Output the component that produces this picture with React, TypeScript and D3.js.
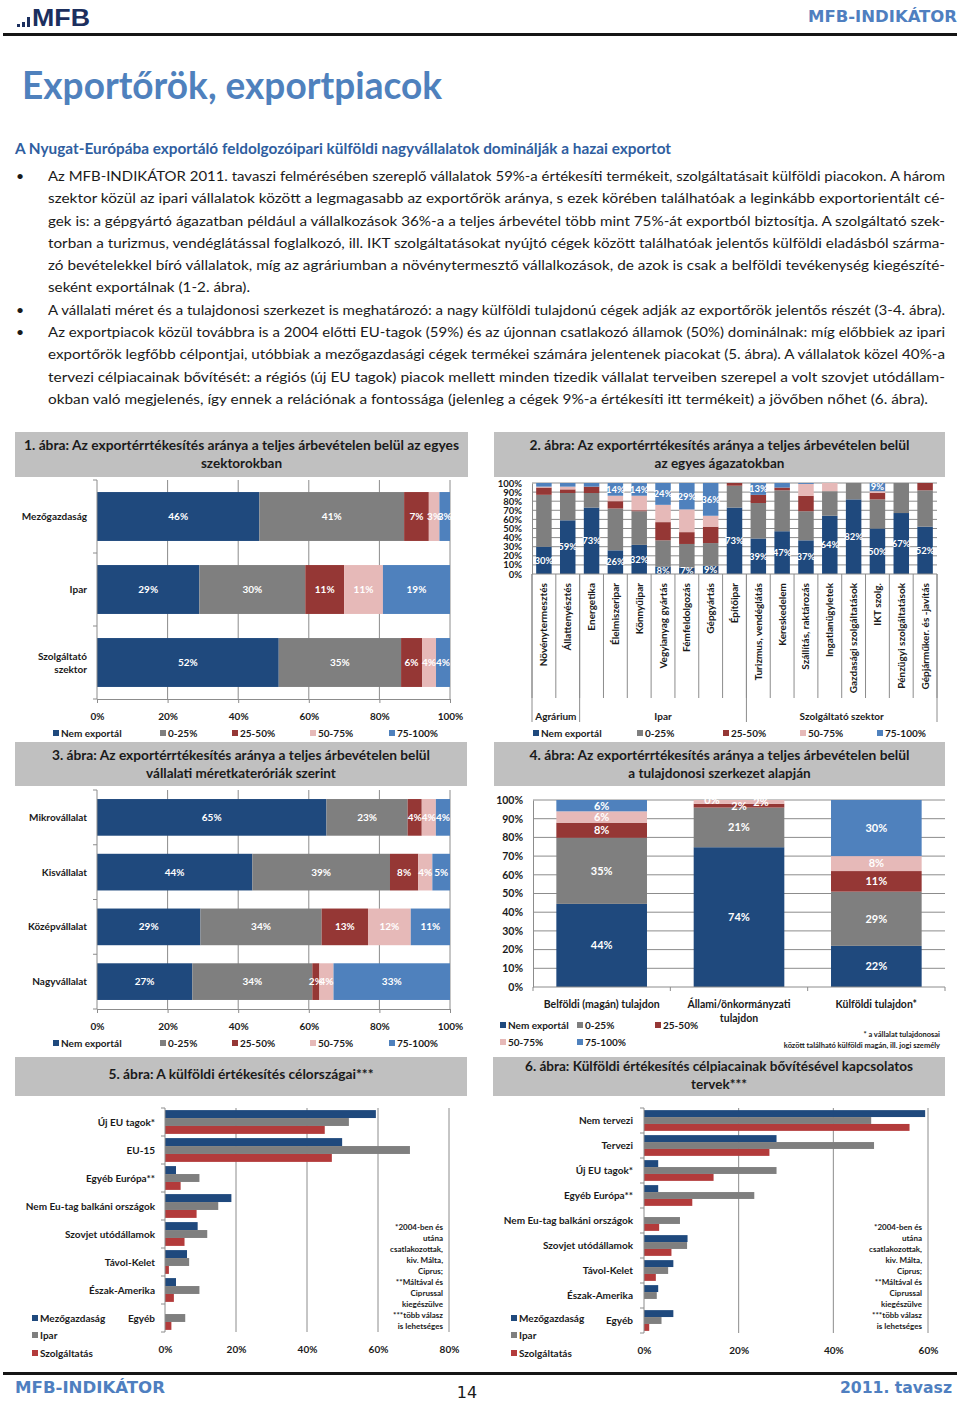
import React, { useRef, useEffect } from 'react';
import * as d3 from 'd3';

// ---- data read from the page ----
const bands = ['Nem exportál', '0-25%', '25-50%', '50-75%', '75-100%'];
const bandColors = ['#1f497d', '#7f7f7f', '#953735', '#e6b9b8', '#4f81bd'];

const sectors = ['Mezőgazdaság', 'Ipar', 'Szolgáltató szektor'];
const sectorLines = [['Mezőgazdaság'], ['Ipar'], ['Szolgáltató', 'szektor']];
const sectorValues = [
  [46, 41, 7, 3, 3],
  [29, 30, 11, 11, 19],
  [52, 35, 6, 4, 4],
];

const branches = [
  'Növénytermesztés', 'Állattenyésztés', 'Energetika', 'Élelmiszeripar', 'Könnyűipar',
  'Vegyianyag gyártás', 'Fémfeldolgozás', 'Gépgyártás', 'Építőipar', 'Turizmus, vendéglátás',
  'Kereskedelem', 'Szállítás, raktározás', 'Ingatlanügyletek', 'Gazdasági szolgáltatások',
  'IKT szolg.', 'Pénzügyi szolgáltatások', 'Gépjárműker. és -javítás',
];
const branchValues = [
  [30, 57, 8, 1, 4],
  [59, 30, 4, 3, 4],
  [73, 16, 7, 0, 4],
  [26, 46, 8, 6, 14],
  [32, 37, 1, 16, 14],
  [8, 29, 20, 19, 24],
  [7, 26, 13, 25, 29],
  [9, 25, 18, 12, 36],
  [73, 24, 3, 0, 0],
  [39, 39, 9, 0, 13],
  [47, 45, 3, 0, 5],
  [37, 32, 17, 13, 1],
  [64, 27, 0, 9, 0],
  [82, 18, 0, 0, 0],
  [50, 32, 7, 2, 9],
  [67, 33, 0, 0, 0],
  [52, 40, 8, 0, 0],
];
const branchGroups = ['Agrárium', 'Ipar', 'Szolgáltató szektor'];
const branchGroupSizes = [2, 7, 8];

const sizes = ['Mikrovállalat', 'Kisvállalat', 'Középvállalat', 'Nagyvállalat'];
const sizeValues = [
  [65, 23, 4, 4, 4],
  [44, 39, 8, 4, 5],
  [29, 34, 13, 12, 11],
  [27, 34, 2, 4, 33],
];

const owners = ['Belföldi (magán) tulajdon', 'Állami/önkormányzati tulajdon', 'Külföldi tulajdon*'];
const ownerLines = [['Belföldi (magán) tulajdon'], ['Állami/önkormányzati', 'tulajdon'], ['Külföldi tulajdon*']];
const ownerValues = [
  [44, 35, 8, 6, 6],
  [74, 21, 2, 2, 0],
  [22, 29, 11, 8, 30],
];

const destSeries = ['Mezőgazdaság', 'Ipar', 'Szolgáltatás'];
const destColors = ['#1f497d', '#7f7f7f', '#b33b3b'];

const targets = ['Új EU tagok*', 'EU-15', 'Egyéb Európa**', 'Nem Eu-tag balkáni országok',
  'Szovjet utódállamok', 'Távol-Kelet', 'Észak-Amerika', 'Egyéb'];
const targetValues = [
  [59.4, 51.8, 45],
  [49.9, 69, 47],
  [3.1, 9.7, 4.4],
  [18.7, 15, 8.9],
  [9.2, 11.9, 5.5],
  [6.2, 6.8, 1.1],
  [3.1, 9.7, 2.5],
  [0, 5.7, 1.8],
];
const targetTicks = [0, 20, 40, 60, 80];

const plans = ['Nem tervezi', 'Tervezi', 'Új EU tagok*', 'Egyéb Európa**', 'Nem Eu-tag balkáni országok',
  'Szovjet utódállamok', 'Távol-Kelet', 'Észak-Amerika', 'Egyéb'];
const planValues = [
  [59.4, 48, 56.1],
  [28, 48.6, 26.5],
  [3, 28, 14.7],
  [3, 23.3, 10.2],
  [0, 7.6, 3.2],
  [9.2, 9.1, 5.8],
  [6.2, 5.1, 2.5],
  [3, 2.7, 0],
  [6.2, 3.7, 1.1],
];
const planTicks = [0, 20, 40, 60];

const noteLines = ['*2004-ben és', 'utána', 'csatlakozottak,', 'kiv. Málta,', 'Ciprus;',
  '**Máltával és', 'Ciprussal', 'kiegészülve', '***több válasz', 'is lehetséges'];

const paragraph = [
  'Az MFB-INDIKÁTOR 2011. tavaszi felmérésében szereplő vállalatok 59%-a értékesíti termékeit, szolgáltatásait külföldi piacokon. A három',
  'szektor közül az ipari vállalatok között a legmagasabb az exportőrök aránya, s ezek körében találhatóak a leginkább exportorientált cé-',
  'gek is: a gépgyártó ágazatban például a vállalkozások 36%-a a teljes árbevétel több mint 75%-át exportból biztosítja. A szolgáltató szek-',
  'torban a turizmus, vendéglátással foglalkozó, ill. IKT szolgáltatásokat nyújtó cégek között találhatóak jelentős külföldi eladásból szárma-',
  'zó bevételekkel bíró vállalatok, míg az agráriumban a növénytermesztő vállalkozások, de azok is csak a belföldi tevékenység kiegészíté-',
  'seként exportálnak (1-2. ábra).',
  'A vállalati méret és a tulajdonosi szerkezet is meghatározó: a nagy külföldi tulajdonú cégek adják az exportőrök jelentős részét (3-4. ábra).',
  'Az exportpiacok közül továbbra is a 2004 előtti EU-tagok (59%) és az újonnan csatlakozó államok (50%) dominálnak: míg előbbiek az ipari',
  'exportőrök legfőbb célpontjai, utóbbiak a mezőgazdasági cégek termékei számára jelentenek piacokat (5. ábra). A vállalatok közel 40%-a',
  'tervezi célpiacainak bővítését: a régiós (új EU tagok) piacok mellett minden tizedik vállalat terveiben szerepel a volt szovjet utódállam-',
  'okban való megjelenés, így ennek a relációnak a fontossága (jelenleg a cégek 9%-a értékesíti itt termékeit) a jövőben nőhet (6. ábra).',
];
const paragraphWidths = [897, 897, 897, 897, 897, 202, 897, 897, 897, 897, 880];
const bulletLines = [0, 6, 7];

const FONT = 'Lato, "Open Sans", "DejaVu Sans", sans-serif';
const INK = '#1a1a1a';
const GRID = '#8c8c8c';
const BOX = '#c0c0c0';
const BLUE = '#4f7fc0';

function addText(g: any, x: number, y: number, s: string, o: any = {}) {
  const t = g.append('text')
    .attr('x', x).attr('y', y).attr('dy', '0.35em')
    .attr('font-family', o.family || FONT)
    .attr('font-size', o.size || 10)
    .attr('font-weight', o.weight || 'bold')
    .attr('fill', o.fill || INK)
    .attr('text-anchor', o.anchor || 'start')
    .text(s);
  if (o.len) t.attr('textLength', o.len).attr('lengthAdjust', 'spacingAndGlyphs');
  return t;
}

function titleBox(g: any, x: number, y: number, w: number, h: number, lines: string[], ys: number[], lens: (number | null)[]) {
  g.append('rect').attr('x', x).attr('y', y).attr('width', w).attr('height', h).attr('fill', BOX);
  lines.forEach((ln, i) => addText(g, x + w / 2, ys[i], ln, { size: 13.5, anchor: 'middle', len: lens[i] || undefined }));
}

function legend(g: any, labels: string[], colors: string[], xs: number[], ys: number[]) {
  labels.forEach((l, i) => {
    g.append('rect').attr('x', xs[i]).attr('y', ys[i] - 3).attr('width', 6).attr('height', 6).attr('fill', colors[i]);
    addText(g, xs[i] + 8, ys[i], l, { size: 10 });
  });
}

const stackOf = (values: number[][]) =>
  d3.stack<any, any, any>()
    .keys(bands.map((_, i) => i))
    .value((d: number[], k: number) => d[k])
    .offset(d3.stackOffsetExpand)(values);

function drawHStack(g: any, c: any) {
  const series = stackOf(c.values);
  const n = c.cats.length;
  const x = d3.scaleLinear().domain([0, 1]).range([c.left, c.right]);
  const y = d3.scaleBand().domain(c.cats).range([c.top, c.bottom]).paddingInner(0.33).paddingOuter(0.165);
  const ticks = [0, 0.2, 0.4, 0.6, 0.8, 1];

  g.append('g').selectAll('line').data(ticks.slice(1)).join('line')
    .attr('x1', (d: number) => x(d)).attr('x2', (d: number) => x(d))
    .attr('y1', c.top).attr('y2', c.bottom).attr('stroke', GRID);

  series.forEach((s: any, i: number) => {
    g.append('g').selectAll('rect').data(s).join('rect')
      .attr('x', (d: any) => x(d[0]))
      .attr('y', (_: any, j: number) => y(c.cats[j]))
      .attr('width', (d: any) => x(d[1]) - x(d[0]))
      .attr('height', y.bandwidth())
      .attr('fill', bandColors[i]);
  });
  series.forEach((s: any, i: number) => {
    g.append('g').selectAll('text').data(s).join('text')
      .attr('x', (d: any) => x((d[0] + d[1]) / 2))
      .attr('y', (_: any, j: number) => (y(c.cats[j]) as number) + y.bandwidth() / 2)
      .attr('dy', '0.35em').attr('text-anchor', 'middle')
      .attr('font-family', FONT).attr('font-size', 10).attr('font-weight', 'bold')
      .attr('fill', '#fff')
      .text((_: any, j: number) => c.values[j][i] + '%');
  });

  const ax = g.append('g').attr('transform', `translate(0,${c.bottom})`)
    .call(d3.axisBottom(x).tickValues(ticks).tickFormat(d3.format('.0%')).tickSize(4).tickSizeOuter(0).tickPadding(10));
  ax.attr('font-family', FONT).attr('font-size', 10);
  ax.select('.domain').attr('stroke', GRID);
  ax.selectAll('line').attr('stroke', GRID);
  ax.selectAll('text').attr('font-weight', 'bold').attr('fill', INK);

  g.append('line').attr('x1', c.left).attr('x2', c.left).attr('y1', c.top).attr('y2', c.bottom).attr('stroke', GRID);
  g.append('g').selectAll('line').data(d3.range(n + 1)).join('line')
    .attr('x1', c.left - 4).attr('x2', c.left)
    .attr('y1', (i: number) => c.top + i * y.step()).attr('y2', (i: number) => c.top + i * y.step())
    .attr('stroke', GRID);

  c.cats.forEach((cat: string, j: number) => {
    const lines = c.catLines[j];
    const cy = (y(cat) as number) + y.bandwidth() / 2;
    lines.forEach((ln: string, k: number) =>
      addText(g, c.labelX, cy + (k - (lines.length - 1) / 2) * 13, ln, { size: 10, anchor: 'end' }));
  });

  legend(g, bands, bandColors, [53, 160, 232, 310, 389], bands.map(() => c.legendY));
}

function drawVStack(g: any, c: any) {
  const series = stackOf(c.values);
  const x = d3.scaleBand().domain(c.cats).range([c.left, c.right]).paddingInner(c.pad).paddingOuter(c.pad / 2);
  const y = d3.scaleLinear().domain([0, 1]).range([c.bottom, c.top]);
  const ticks = d3.range(0, 1.0001, 0.1);

  g.append('g').selectAll('line').data(ticks.slice(1)).join('line')
    .attr('x1', c.left).attr('x2', c.right)
    .attr('y1', (d: number) => y(d)).attr('y2', (d: number) => y(d))
    .attr('stroke', GRID);

  series.forEach((s: any, i: number) => {
    g.append('g').selectAll('rect').data(s).join('rect')
      .attr('x', (_: any, j: number) => x(c.cats[j]))
      .attr('y', (d: any) => y(d[1]))
      .attr('width', x.bandwidth())
      .attr('height', (d: any) => y(d[0]) - y(d[1]))
      .attr('fill', bandColors[i]);
  });
  series.forEach((s: any, i: number) => {
    s.forEach((d: any, j: number) => {
      const v = c.values[j][i];
      if (!c.showLabel(i, v)) return;
      const dx = c.shift ? c.shift(i, v) : 0;
      addText(g, (x(c.cats[j]) as number) + x.bandwidth() / 2 + dx, y((d[0] + d[1]) / 2), v + '%',
        { size: c.labelSize, anchor: 'middle', fill: '#fff' });
    });
  });

  const ax = g.append('g').attr('transform', `translate(${c.left},0)`)
    .call(d3.axisLeft(y).tickValues(ticks).tickFormat(d3.format('.0%')).tickSize(0).tickPadding(c.left - c.yLabelX));
  ax.attr('font-family', FONT).attr('font-size', c.tickSize);
  ax.select('.domain').attr('stroke', GRID);
  ax.selectAll('text').attr('font-weight', 'bold').attr('fill', INK);
  g.append('line').attr('x1', c.left).attr('x2', c.right).attr('y1', c.bottom).attr('y2', c.bottom).attr('stroke', GRID);
  return x;
}

function drawGrouped(g: any, c: any) {
  const x = d3.scaleLinear().domain([0, c.max]).range([c.left, c.right]);
  const y0 = d3.scaleBand().domain(c.cats).range([c.top, c.bottom]).paddingInner(c.pad).paddingOuter(c.pad / 2);
  const y1 = d3.scaleBand().domain(destSeries).range([0, y0.bandwidth()]);
  const n = c.cats.length;

  g.append('g').selectAll('line').data(c.ticks.slice(1)).join('line')
    .attr('x1', (d: number) => x(d)).attr('x2', (d: number) => x(d))
    .attr('y1', c.top).attr('y2', c.bottom).attr('stroke', GRID);

  c.cats.forEach((cat: string, j: number) => {
    g.append('g').selectAll('rect').data(c.values[j]).join('rect')
      .attr('x', x(0))
      .attr('y', (_: any, k: number) => (y0(cat) as number) + (y1(destSeries[k]) as number))
      .attr('width', (v: number) => x(v) - x(0))
      .attr('height', y1.bandwidth())
      .attr('fill', (_: any, k: number) => destColors[k]);
    const cy = (y0(cat) as number) + y0.bandwidth() / 2;
    addText(g, c.labelX, cy, cat, { size: 10, anchor: 'end' });
  });

  const ax = g.append('g').attr('transform', `translate(0,${c.bottom})`)
    .call(d3.axisBottom(x).tickValues(c.ticks).tickFormat((d: any) => d + '%').tickSize(0).tickPadding(14));
  ax.attr('font-family', FONT).attr('font-size', 10);
  ax.select('.domain').remove();
  ax.selectAll('text').attr('font-weight', 'bold').attr('fill', INK);

  g.append('line').attr('x1', c.left).attr('x2', c.left).attr('y1', c.top).attr('y2', c.bottom).attr('stroke', GRID);
  g.append('g').selectAll('line').data(d3.range(n + 1)).join('line')
    .attr('x1', c.left - 4).attr('x2', c.left)
    .attr('y1', (i: number) => c.top + i * y0.step()).attr('y2', (i: number) => c.top + i * y0.step())
    .attr('stroke', GRID);

  legend(g, destSeries, destColors, destSeries.map(() => c.legendX), [1318, 1335, 1353]);
  noteLines.forEach((ln, i) => addText(g, c.noteX, 1227 + i * 11, ln, { size: 8, anchor: 'end' }));
}

function drawPage(g: any) {
  // header
  [[17, 3], [22, 5], [27, 10]].forEach(([x, h]) =>
    g.append('rect').attr('x', x).attr('y', 27 - h).attr('width', 3).attr('height', h).attr('fill', '#1c2f5e'));
  addText(g, 32, 18, 'MFB', { family: '"Liberation Sans", Arial, sans-serif', size: 23, fill: '#1c2f5e', len: 58 });
  addText(g, 957, 17, 'MFB-INDIKÁTOR', { family: '"DejaVu Sans Condensed", "DejaVu Sans", sans-serif', size: 15, fill: BLUE, anchor: 'end', len: 149 });
  g.append('rect').attr('x', 3).attr('y', 33).attr('width', 954).attr('height', 3).attr('fill', '#151515');

  addText(g, 22, 86, 'Exportőrök, exportpiacok', { size: 38, fill: '#4f81bd', len: 420 });
  addText(g, 15, 149, 'A Nyugat-Európába exportáló feldolgozóipari külföldi nagyvállalatok dominálják a hazai exportot',
    { size: 14.5, fill: '#2f5e9f', len: 656 });

  paragraph.forEach((ln, i) => {
    const cy = 176 + i * 22.3;
    addText(g, 48, cy, ln, { size: 14, weight: 'normal', len: paragraphWidths[i] });
    if (bulletLines.includes(i)) addText(g, 16, cy, '•', { size: 14, weight: 'normal' });
  });

  // footer
  g.append('rect').attr('x', 3).attr('y', 1372).attr('width', 954).attr('height', 3).attr('fill', '#151515');
  addText(g, 15, 1388, 'MFB-INDIKÁTOR', { family: '"DejaVu Sans Condensed", "DejaVu Sans", sans-serif', size: 15, fill: BLUE, len: 150 });
  addText(g, 467, 1392, '14', { family: '"DejaVu Sans", sans-serif', size: 16, weight: 'normal', anchor: 'middle' });
  addText(g, 952, 1388, '2011. tavasz', { family: '"DejaVu Sans Condensed", "DejaVu Sans", sans-serif', size: 15, fill: BLUE, anchor: 'end', len: 112 });
}

export default function App() {
  const ref = useRef<SVGSVGElement>(null);

  useEffect(() => {
    if (!ref.current) return;
    const svg = d3.select(ref.current);
    svg.selectAll('*').remove();
    const g = svg.append('g');

    drawPage(g);

    // 1. ábra
    titleBox(g, 15, 432, 453, 45,
      ['1. ábra: Az exportérrtékesítés aránya a teljes árbevételen belül az egyes', 'szektorokban'], [445, 463], [435, null]);
    drawHStack(g, { cats: sectors, catLines: sectorLines, values: sectorValues, left: 97, right: 450, top: 480, bottom: 699, labelX: 87, legendY: 733 });

    // 3. ábra
    titleBox(g, 15, 742, 452, 44,
      ['3. ábra: Az exportérrtékesítés aránya a teljes árbevételen belül', 'vállalati méretkateróriák szerint'], [755, 773], [378, null]);
    drawHStack(g, { cats: sizes, catLines: sizes.map(s => [s]), values: sizeValues, left: 97, right: 450, top: 790, bottom: 1009, labelX: 87, legendY: 1043 });

    // 2. ábra
    titleBox(g, 494, 432, 451, 45,
      ['2. ábra: Az exportérrtékesítés aránya a teljes árbevételen belül', 'az egyes ágazatokban'], [445, 463], [380, null]);
    const x2 = drawVStack(g, {
      cats: branches, values: branchValues, left: 532, right: 937, top: 483, bottom: 574, pad: 0.35,
      yLabelX: 522, tickSize: 9.5, labelSize: 9.5,
      showLabel: (i: number, v: number) => i === 0 || (i === 4 && v >= 9),
    });
    const step2 = x2.step();
    branches.forEach(b => {
      const cx = (x2(b) as number) + x2.bandwidth() / 2;
      addText(g, 0, 0, b, { size: 10, anchor: 'end' })
        .attr('x', null).attr('y', null)
        .attr('transform', `translate(${cx},583) rotate(-90)`);
    });
    g.append('g').selectAll('line').data(d3.range(branches.length + 1)).join('line')
      .attr('x1', (i: number) => 532 + i * step2).attr('x2', (i: number) => 532 + i * step2)
      .attr('y1', 574).attr('y2', 698).attr('stroke', GRID);
    const groupEdges = [0, ...d3.cumsum(branchGroupSizes)];
    g.append('g').selectAll('line').data(groupEdges).join('line')
      .attr('x1', (i: number) => 532 + i * step2).attr('x2', (i: number) => 532 + i * step2)
      .attr('y1', 574).attr('y2', 722).attr('stroke', GRID);
    branchGroups.forEach((name, k) => {
      const cx = 532 + ((groupEdges[k] + groupEdges[k + 1]) / 2) * step2;
      addText(g, cx, 716, name, { size: 10, anchor: 'middle' });
    });
    legend(g, bands, bandColors, [533, 637, 723, 800, 877], bands.map(() => 733));

    // 4. ábra
    titleBox(g, 494, 742, 451, 44,
      ['4. ábra: Az exportérrtékesítés aránya a teljes árbevételen belül', 'a tulajdonosi  szerkezet alapján'], [755, 773], [380, null]);
    const x4 = drawVStack(g, {
      cats: owners, values: ownerValues, left: 533, right: 945, top: 800, bottom: 987, pad: 0.34,
      yLabelX: 523, tickSize: 10.5, labelSize: 11,
      showLabel: () => true,
      shift: (i: number, v: number) => (v < 3 ? [0, 0, 0, 22, -27][i] : 0),
    });
    g.append('g').selectAll('line').data(d3.range(owners.length + 1)).join('line')
      .attr('x1', (i: number) => 533 + i * x4.step()).attr('x2', (i: number) => 533 + i * x4.step())
      .attr('y1', 987).attr('y2', 991).attr('stroke', GRID);
    owners.forEach((o, j) => {
      const cx = (x4(o) as number) + x4.bandwidth() / 2;
      ownerLines[j].forEach((ln, k) => addText(g, cx, 1004 + k * 14, ln, { size: 10.5, anchor: 'middle' }));
    });
    legend(g, bands, bandColors, [500, 577, 655, 500, 577], [1025, 1025, 1025, 1042, 1042]);
    addText(g, 940, 1034, '* a vállalat  tulajdonosai', { size: 7.5, anchor: 'end' });
    addText(g, 940, 1045, 'között található  külföldi magán, ill. jogi személy', { size: 7.5, anchor: 'end' });

    // 5. ábra
    titleBox(g, 15, 1057, 452, 39, ['5. ábra: A külföldi  értékesítés célországai***'], [1074], [265]);
    drawGrouped(g, {
      cats: targets, values: targetValues, max: 80, ticks: targetTicks, pad: 0.15,
      left: 165, right: 449, top: 1108, bottom: 1332, labelX: 155, legendX: 32, noteX: 443,
    });

    // 6. ábra
    titleBox(g, 493, 1057, 452, 39,
      ['6. ábra: Külföldi  értékesítés  célpiacainak  bővítésével  kapcsolatos', 'tervek***'], [1066, 1084], [388, null]);
    drawGrouped(g, {
      cats: plans, values: planValues, max: 60, ticks: planTicks, pad: 0.17,
      left: 644, right: 928, top: 1108, bottom: 1333, labelX: 633, legendX: 511, noteX: 922,
    });
  }, []);

  return (
    <div style={{ position: 'absolute', left: 0, top: 0 }}>
      <svg ref={ref} width={960} height={1401} viewBox="0 0 960 1401" style={{ display: 'block', background: '#fff' }} />
    </div>
  );
}
